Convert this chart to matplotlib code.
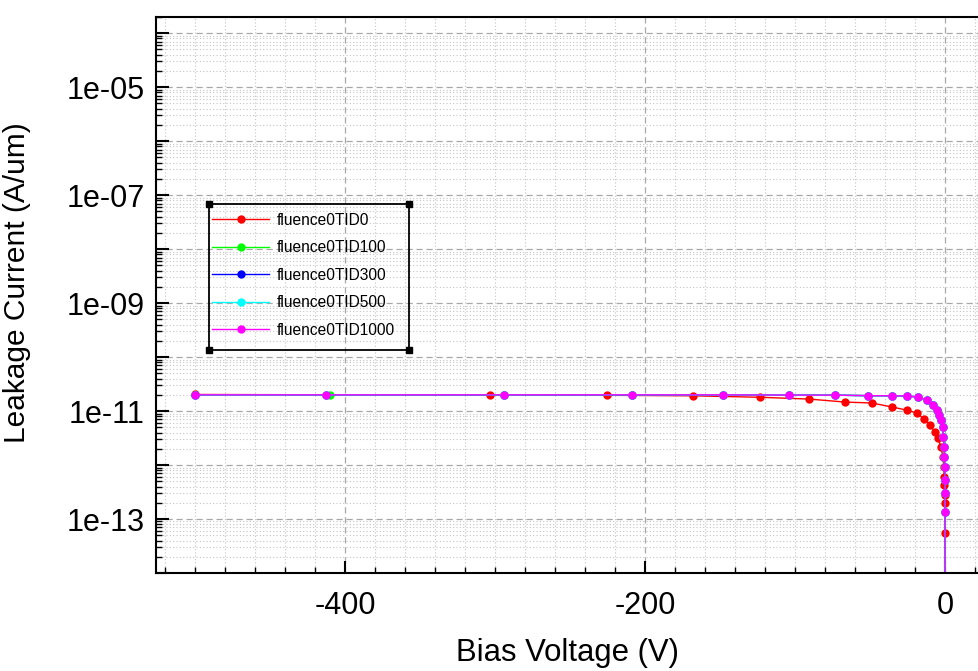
import matplotlib
matplotlib.use("Agg")
import matplotlib.pyplot as plt
from matplotlib.ticker import LogLocator, MultipleLocator, FuncFormatter, NullFormatter
from matplotlib.patches import Rectangle
from matplotlib.lines import Line2D
import numpy as np

plt.rcParams['font.family'] = ['Liberation Sans', 'DejaVu Sans']
plt.rcParams['axes.unicode_minus'] = False

# --- data ---
# fluence0TID0 (red)
v_tid0 = [-500, -303, -225, -168, -123, -90.7, -66.7, -48.7, -35.3, -25.3, -18.7, -14, -10,
          -6.7, -4.7, -2.7, -1.3, -0.8, -0.5, -0.35, -0.2, -0.12, -0.05, 0]
i_tid0 = [2.03e-11, 1.97e-11, 1.96e-11, 1.92e-11, 1.80e-11, 1.67e-11, 1.47e-11, 1.41e-11,
          1.19e-11, 1.04e-11, 9.2e-12, 7.1e-12, 5.5e-12, 4.1e-12, 3.16e-12, 2.15e-12,
          1.41e-12, 9.2e-13, 6.0e-13, 4.3e-13, 2.78e-13, 2.0e-13, 5.5e-14, 1e-17]

# fluence0TID100 (green)
v_tid100 = [-500, -410, -294, -208.7, -148, -104, -73, -51, -35, -25, -18, -12, -8, -5.3, -4,
            -2.5, -1.6, -1.0, -0.6, -0.4, -0.25, -0.15, -0.08, -0.03, 0]
# fluence0TID300 / 500 / 1000 (blue, cyan, magenta) share the same sweep
v_tid1000 = [-500, -412.7, -294, -208.7, -148, -104, -73, -51, -35, -25, -18, -12, -8, -5.3, -4,
             -2.5, -1.6, -1.0, -0.6, -0.4, -0.25, -0.15, -0.08, -0.03, 0]
i_tid1000 = [2.0e-11, 2.0e-11, 2.0e-11, 2.0e-11, 2.0e-11, 1.98e-11, 1.97e-11, 1.93e-11,
             1.92e-11, 1.90e-11, 1.82e-11, 1.60e-11, 1.29e-11, 1.04e-11, 8.4e-12, 6.8e-12,
             5.1e-12, 3.3e-12, 2.15e-12, 1.41e-12, 9.2e-13, 5.3e-13, 3.0e-13, 1.35e-13, 1e-17]

series = [
    ("fluence0TID0", v_tid0, i_tid0, "#ff0000"),
    ("fluence0TID100", v_tid100, i_tid1000, "#00ff00"),
    ("fluence0TID300", v_tid1000, i_tid1000, "#0000ff"),
    ("fluence0TID500", v_tid1000, i_tid1000, "#00ffff"),
    ("fluence0TID1000", v_tid1000, i_tid1000, "#ff00ff"),
]

W, H = 979, 671
fig = plt.figure(figsize=(W / 100, H / 100), dpi=100, facecolor="white")
ax = fig.add_axes([156 / W, 1 - 573 / H, 1 - 156 / W, (573 - 17) / H])

for name, v, i, c in series:
    ax.plot(v, i, color=c, lw=1.0, marker="o", markersize=6, markeredgewidth=0, label=name)

ax.set_yscale("log")
ax.set_xlim(-526, 22.7)
ax.set_ylim(1e-14, 2e-4)

ax.xaxis.set_major_locator(MultipleLocator(200))
ax.xaxis.set_minor_locator(MultipleLocator(20))
ax.yaxis.set_major_locator(LogLocator(base=10, subs=(1.0,), numticks=100))
ax.yaxis.set_minor_locator(LogLocator(base=10, subs=np.arange(2, 10), numticks=100))
ax.yaxis.set_minor_formatter(NullFormatter())


def ylab(val, pos):
    e = int(round(np.log10(val)))
    return f"{val:.0e}" if e % 2 == 1 else ""


ax.yaxis.set_major_formatter(FuncFormatter(ylab))

ax.tick_params(which="both", direction="in", colors="black", labelsize=22)
ax.tick_params(which="major", length=9, width=1.5)
ax.tick_params(which="minor", length=4, width=1)
ax.tick_params(axis="x", which="major", pad=13)
ax.tick_params(axis="y", which="major", pad=8)
ax.tick_params(top=False, right=False, which="both")

ax.grid(which="major", ls=(0, (5, 3)), color="#a8a8a8", lw=0.9)
ax.grid(which="minor", ls=(0, (1, 2)), color="#c4c4c4", lw=0.8)
ax.set_axisbelow(True)

for s in ["left", "bottom", "top"]:
    ax.spines[s].set_color("black")
    ax.spines[s].set_linewidth(1.5)
ax.spines["right"].set_visible(False)

ax.set_xlabel("Bias Voltage (V)", fontsize=22.4, labelpad=12)
ax.set_ylabel("Leakage Current (A/um)", fontsize=21.5)
ax.yaxis.set_label_coords(-0.1515, 0.5216)

# legend with ROOT-like box
leg = ax.legend(loc="upper left", bbox_to_anchor=(201 / W, 1 - 202 / H), bbox_transform=fig.transFigure,
                frameon=False, fontsize=11.2, handlelength=3.7, handletextpad=0.45,
                labelspacing=0.8, borderpad=0.2)
x0, y0, x1, y1 = 209 / W, 1 - 350 / H, 409 / W, 1 - 204 / H
fig.add_artist(Rectangle((x0, y0), x1 - x0, y1 - y0, transform=fig.transFigure,
                         fill=False, edgecolor="black", lw=1.3))
fig.add_artist(Line2D([x0, x1, x0, x1], [y0, y0, y1, y1], transform=fig.transFigure,
                      ls="none", marker="s", markersize=4, color="black"))

fig.savefig("out.png", dpi=100, facecolor="white")
